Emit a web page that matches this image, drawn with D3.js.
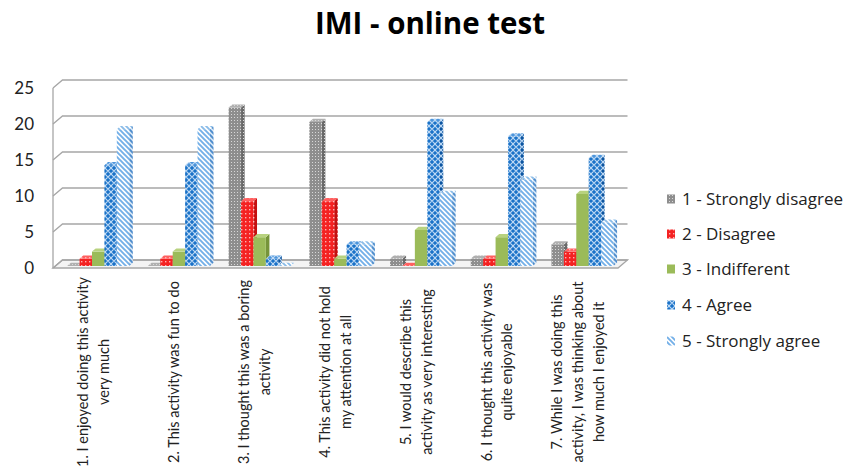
<!DOCTYPE html>
<html><head><meta charset="utf-8">
<script src="https://cdn.jsdelivr.net/npm/d3@7"></script>
<style>
html,body{margin:0;padding:0;background:#fff;}
svg{display:block;font-family:Lato,"Open Sans",sans-serif;}
</style></head>
<body>
<svg id="chart" width="860" height="471"></svg>
<script>
const title = "IMI - online test";
const categories = [
  ["1. I enjoyed doing this activity", "very much"],
  ["2. This activity was fun to do"],
  ["3. I thought this was a boring", "activity"],
  ["4. This activity did not hold", "my attention at all"],
  ["5. I would describe this", "activity as very interesting"],
  ["6. I thought this activity was", "quite enjoyable"],
  ["7. While I was doing this", "activity, I was thinking about", "how much I enjoyed it"]
];
const seriesNames = ["1 - Strongly disagree", "2 - Disagree", "3 - Indifferent", "4 - Agree", "5 - Strongly agree"];
const stronglyDisagree = [0, 0, 22, 20, 1, 1, 3];
const disagree         = [1, 1, 9, 9, 0, 1, 2];
const indifferent      = [2, 2, 4, 1, 5, 4, 10];
const agree            = [14, 14, 1, 3, 20, 18, 15];
const stronglyAgree    = [19, 19, 0, 3, 10, 12, 6];
const yTicks = [0, 5, 10, 15, 20, 25];

const seriesValues = [stronglyDisagree, disagree, indifferent, agree, stronglyAgree];

const svg = d3.select("#chart");
const defs = svg.append("defs");

// ---------- patterns ----------
function pat(id, w, h, bg, draw) {
  const p = defs.append("pattern").attr("id", id).attr("patternUnits", "userSpaceOnUse")
    .attr("width", w).attr("height", h);
  p.append("rect").attr("width", w).attr("height", h).attr("fill", bg);
  draw(p);
}
[["g-front", "#8e8e8e"], ["g-side", "#6a6a6a"], ["g-top", "#b0b0b0"]].forEach(([id, c]) =>
  pat(id, 3, 3, c, p => { p.append("rect").attr("x", 0).attr("y", 0).attr("width", 1).attr("height", 1).attr("fill", "#d8d8d8"); }));
[["r-front", "#f42222"], ["r-side", "#c41010"], ["r-top", "#ff6060"]].forEach(([id, c]) =>
  pat(id, 4, 4, c, p => { p.append("rect").attr("x", 1).attr("y", 1).attr("width", 1.4).attr("height", 1.4).attr("fill", "#ffb0b0"); }));
[["b-front", "#1a72c8"], ["b-side", "#0d55a0"], ["b-top", "#4c95dc"]].forEach(([id, c]) =>
  pat(id, 6, 6, c, p => {
    p.append("path").attr("d", "M0,3 L3,0 L6,3 L3,6 Z").attr("fill", "none").attr("stroke", "#bcd8f4").attr("stroke-width", 1.1);
  }));
[["l-front", "#ffffff", "#74b0e8"], ["l-side", "#d6e6f6", "#4d8ccc"], ["l-top", "#ffffff", "#8abce8"]].forEach(([id, c, s]) =>
  pat(id, 5, 5, c, p => {
    p.append("path").attr("d", "M-1,-1 L6,6 M4,-1 L6,1 M-1,4 L1,6").attr("stroke", s).attr("stroke-width", 1.9);
  }));

const fills = [
  {front: "url(#g-front)", side: "url(#g-side)", top: "url(#g-top)"},
  {front: "url(#r-front)", side: "url(#r-side)", top: "url(#r-top)"},
  {front: "#9bbb59", side: "#76943a", top: "#b8d27f"},
  {front: "url(#b-front)", side: "url(#b-side)", top: "url(#b-top)"},
  {front: "url(#l-front)", side: "url(#l-side)", top: "url(#l-top)"}
];

// ---------- scales ----------
const y = d3.scaleLinear().domain([0, 25]).range([268, 88]);
const DX = 9.5, DY = -8;
const x0 = d3.scaleBand().domain(d3.range(categories.length)).range([53, 618]);
const x1 = d3.scaleBand().domain(d3.range(seriesNames.length)).range([12, 74]);
const barOff = {dx: 2.2, dy: -2};
const barDepth = {dx: 3.6, dy: -3.2};

// ---------- walls / grid ----------
const grid = svg.append("g").attr("stroke", "#a6a6a6").attr("fill", "none").attr("stroke-width", 1.3);
grid.append("path").attr("fill", "#f4f4f4")
  .attr("d", `M53,${y(0)} L618,${y(0)} L${618 + DX},${y(0) + DY} L${53 + DX},${y(0) + DY} Z`);
grid.append("line").attr("x1", 53).attr("x2", 53).attr("y1", y(0)).attr("y2", y(25));
yTicks.forEach(t => {
  grid.append("path").attr("d", `M53,${y(t)} L${53 + DX},${y(t) + DY} L${618 + DX},${y(t) + DY}`);
});

svg.append("g").selectAll("text").data(yTicks).join("text")
  .attr("x", 34).attr("y", d => y(d)).attr("dy", "0.35em").attr("text-anchor", "end")
  .attr("font-size", 17).attr("fill", "#222").text(d => d);

// ---------- bars ----------
const bars = svg.append("g");
categories.forEach((c, ci) => {
  seriesValues.forEach((vals, si) => {
    const v = vals[ci];
    const f = fills[si];
    const xl = x0(ci) + x1(si) + barOff.dx;
    const xr = xl + x1.bandwidth();
    const yb = y(0) + barOff.dy;
    const yt = y(v) + barOff.dy;
    const g = bars.append("g");
    g.append("path").attr("fill", f.side)
      .attr("d", `M${xr},${yb} L${xr + barDepth.dx},${yb + barDepth.dy} L${xr + barDepth.dx},${yt + barDepth.dy} L${xr},${yt} Z`);
    g.append("rect").attr("x", xl).attr("y", yt).attr("width", xr - xl).attr("height", Math.max(0, yb - yt)).attr("fill", f.front);
    g.append("path").attr("fill", f.top)
      .attr("d", `M${xl},${yt} L${xr},${yt} L${xr + barDepth.dx},${yt + barDepth.dy} L${xl + barDepth.dx},${yt + barDepth.dy} Z`);
  });
});

// ---------- category labels ----------
const labG = svg.append("g").attr("font-size", 14.5).attr("fill", "#222");
categories.forEach((lines, ci) => {
  const cx = x0(ci) + x0.bandwidth() / 2;
  const t = labG.append("g").attr("transform", `translate(${cx},372) rotate(-90)`);
  lines.forEach((ln, li) => {
    t.append("text").attr("x", 0).attr("y", (li - (lines.length - 1) / 2) * 21)
      .attr("dy", "0.35em").attr("text-anchor", "middle").text(ln);
  });
});

// ---------- title ----------
svg.append("text").attr("x", 430).attr("y", 24).attr("dy", "0.35em").attr("text-anchor", "middle")
  .attr("font-family", "'Open Sans', sans-serif")
  .attr("font-size", 29.5).attr("font-weight", "bold").attr("fill", "#000").text(title);

// ---------- legend ----------
const legY = [199, 234, 269, 305, 341];
const leg = svg.append("g");
seriesNames.forEach((n, i) => {
  leg.append("rect").attr("x", 667).attr("y", legY[i] - 4.5).attr("width", 8).attr("height", 9).attr("fill", fills[i].front);
  leg.append("text").attr("x", 682).attr("y", legY[i]).attr("dy", "0.35em")
    .attr("font-family", "'Open Sans', sans-serif")
    .attr("font-size", 17).attr("fill", "#222").text(n);
});
</script>
</body></html>
